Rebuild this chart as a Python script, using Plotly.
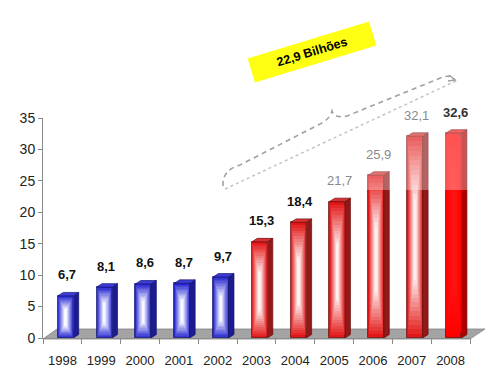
import plotly.graph_objects as go

# ---------------- data ----------------
years = ["1998", "1999", "2000", "2001", "2002", "2003", "2004", "2005", "2006", "2007", "2008"]
values = [6.7, 8.1, 8.6, 8.7, 9.7, 15.3, 18.4, 21.7, 25.9, 32.1, 32.6]
value_labels = ["6,7", "8,1", "8,6", "8,7", "9,7", "15,3", "18,4", "21,7", "25,9", "32,1", "32,6"]
callout_text = "22,9 Bilhões"

# ---------------- styles ----------------
FONT = "Liberation Sans, Arial, sans-serif"
blue = dict(edge=(40, 40, 210), center=(248, 248, 255), side="#1c1c90", top="#3c3cd6", line="#141470")
red = dict(edge=(226, 22, 22), center=(255, 240, 240), side="#941818", top="#d83030", line="#6a0c0c")
solid = dict(edge=(255, 0, 0), center=(255, 20, 20), side="#b00000", top="#e81818", line="#6a0000")
styles = [blue] * 5 + [red] * 5 + [solid]
label_colors = ["#111111"] * 7 + ["#8a8a8a"] * 3 + ["#333333"]
label_bold = [True] * 7 + [False] * 3 + [True]

n = len(values)
xs = list(range(n))
OFF, W = 0.08, 0.40   # front face offset / width (category units)
DX, DY = 0.14, 0.55   # 3D depth (x units, y units)
K = 14                 # gradient layers


def mix(c1, c2, t):
    return "rgb(%d,%d,%d)" % tuple(round(a + (b - a) * t) for a, b in zip(c1, c2))


fig = go.Figure()

# front faces with a simulated gradient (stacked overlay bars)
for k in range(K):
    t = k / (K - 1)
    frac = 1 - 0.92 * k / K
    bases = [v * 0.022 * k for v in values]
    heights = [v * (1 - 0.024 * k) - b for v, b in zip(values, bases)]
    fig.add_trace(go.Bar(
        x=[i + OFF for i in xs], y=heights, base=bases,
        width=[W * frac] * n,
        marker=dict(color=[mix(s["edge"], s["center"], t ** 1.0) for s in styles],
                    line=dict(width=0.8 if k == 0 else 0,
                              color=[s["line"] for s in styles])),
        hoverinfo="skip", showlegend=False,
    ))

# side and top faces
for grp in (blue, red, solid):
    sx, sy, tx, ty = [], [], [], []
    for i, v, s in zip(xs, values, styles):
        if s is not grp:
            continue
        x0 = i + OFF - W / 2
        x1 = i + OFF + W / 2
        sx += [x1, x1, x1 + DX, x1 + DX, x1, None]
        sy += [0, v, v + DY, DY, 0, None]
        tx += [x0, x1, x1 + DX, x0 + DX, x0, None]
        ty += [v, v, v + DY, v + DY, v, None]
    fig.add_trace(go.Scatter(x=sx, y=sy, fill="toself", fillcolor=grp["side"], mode="lines",
                             line=dict(color=grp["line"], width=0.7), hoverinfo="skip", showlegend=False))
    fig.add_trace(go.Scatter(x=tx, y=ty, fill="toself", fillcolor=grp["top"], mode="lines",
                             line=dict(color=grp["line"], width=0.7), hoverinfo="skip", showlegend=False))

# value labels
for i, v, lab, c, b in zip(xs, values, value_labels, label_colors, label_bold):
    fig.add_annotation(x=i + OFF + 0.05, y=v, text=("<b>%s</b>" % lab) if b else lab,
                       showarrow=False, yanchor="middle", xanchor="center", yshift=21,
                       font=dict(family=FONT, size=13, color=c))

# ---------------- decorations (page pixel -> paper) ----------------
# page offset of the figure (default body margin of the HTML page)
PAGE = 8
L, R, T, B = 43, 470, 118, 338   # plot area on the page


def PX(x):
    return (x - L) / (R - L)


def PY(y):
    return (B - y) / (B - T)


def P(x, y):
    return "%.4f,%.4f" % (PX(x), PY(y))


# floor
fig.add_shape(type="path", xref="paper", yref="paper", layer="below",
              path="M %s L %s L %s L %s Z" % (P(43, 339), P(470, 339), P(485, 329), P(57, 329)),
              fillcolor="#a4a4a4", line=dict(color="#808080", width=0.8))

# translucent highlight over upper-right
fig.add_shape(type="rect", xref="paper", yref="paper", layer="above",
              x0=PX(330), x1=PX(472), y0=PY(190), y1=PY(100),
              fillcolor="rgba(255,255,255,0.32)", line=dict(width=0))

# dotted straight line
fig.add_shape(type="line", xref="paper", yref="paper",
              x0=PX(225), y0=PY(189), x1=PX(458), y1=PY(80),
              line=dict(color="#c4c4c4", width=1.5, dash="dot"))

# dashed brace-like curve
brace = ("M %s Q %s %s L %s Q %s %s Q %s %s L %s Q %s %s" % (
    P(223, 186), P(222, 170), P(240, 165), P(320, 124), P(330, 119), P(332, 111),
    P(335, 119), P(347, 116), P(438, 79), P(450, 73), P(455, 80)))
fig.add_shape(type="path", xref="paper", yref="paper", path=brace,
              line=dict(color="#a0a0a0", width=1.6, dash="5px,4px"))
fig.add_shape(type="path", xref="paper", yref="paper",
              path="M %s L %s L %s" % (P(449, 75), P(455, 80), P(448, 81)),
              line=dict(color="#a0a0a0", width=1.4))

# yellow callout
fig.add_annotation(xref="paper", yref="paper", x=PX(312), y=PY(52), text="<b>%s</b>" % callout_text,
                   showarrow=False, textangle=-17, bgcolor="#ffff14", width=124, height=22,
                   xanchor="center", yanchor="middle",
                   font=dict(family=FONT, size=12.5, color="#000000"))

# ---------------- axes / layout ----------------
fig.update_layout(
    width=500 - PAGE, height=381 - PAGE,
    margin=dict(l=L - PAGE, r=500 - R, t=T - PAGE, b=381 - B, autoexpand=False),
    paper_bgcolor="white", plot_bgcolor="white",
    barmode="overlay", bargap=0,
    font=dict(family=FONT, color="#222222"),
    xaxis=dict(range=[-0.5, 10.5], tickvals=xs, ticktext=years, ticks="", automargin=False,
               showgrid=False, zeroline=False, showline=True, linecolor="#8a8a8a", linewidth=1,
               tickfont=dict(size=13, color="#222222"), ticklabelstandoff=10,
               minor=dict(tick0=0.5, dtick=1, ticks="outside", ticklen=5, tickcolor="#8a8a8a", showgrid=False)),
    yaxis=dict(range=[0, 35], dtick=5, ticks="outside", ticklen=4, tickcolor="#8a8a8a", automargin=False,
               showgrid=False, zeroline=False, showline=True, linecolor="#8a8a8a", linewidth=1,
               tickfont=dict(size=14, color="#222222")),
)

fig.write_html("out.html")
